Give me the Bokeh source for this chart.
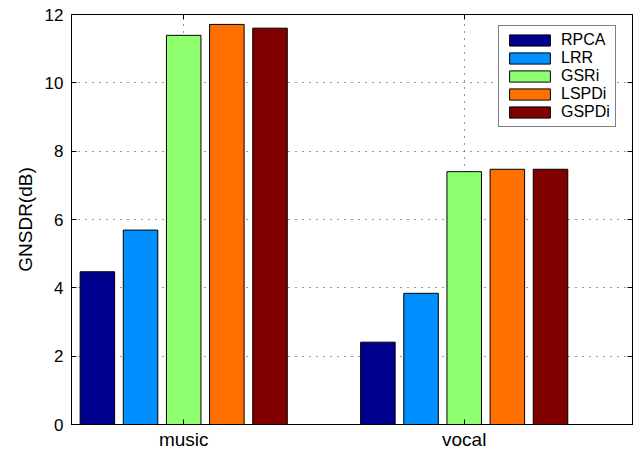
from bokeh.plotting import figure
from bokeh.models import FixedTicker, LinearAxis, Legend, LegendItem, Range1d, ColumnDataSource
from bokeh.embed import file_html
from bokeh.resources import INLINE

# GNSDR per separation method, for each source
groups = ["music", "vocal"]
methods = ["RPCA", "LRR", "GSRi", "LSPDi", "GSPDi"]
music_gnsdr = [4.47, 5.69, 11.39, 11.71, 11.60]
vocal_gnsdr = [2.41, 3.84, 7.40, 7.47, 7.47]
colors = ["#00008F", "#008FFF", "#8FFF70", "#FF7000", "#800000"]
y_ticks = [0, 2, 4, 6, 8, 10, 12]

FONT = "Liberation Sans"

p = figure(width=638, height=452, output_backend="svg", toolbar_location=None,
           x_range=Range1d(0.6, 2.6), y_range=Range1d(0, 12),
           min_border_left=71, min_border_right=6, min_border_top=14, min_border_bottom=26)
p.outline_line_color = "black"
p.outline_line_width = 1
p.background_fill_color = "white"
p.border_fill_color = "white"

# grouped bar layout: 5 bars per group
n = len(methods)
group_w = min(0.8, n / (n + 1.5))
step = group_w / n
bar_w = step * 0.8

renderers = []
for i, m in enumerate(methods):
    off = (i - (n - 1) / 2) * step
    src = ColumnDataSource(dict(
        x=[g + 1 + off for g in range(len(groups))],
        top=[music_gnsdr[i], vocal_gnsdr[i]],
    ))
    r = p.vbar(x="x", top="top", width=bar_w, bottom=0, source=src,
               fill_color=colors[i], line_color="black", line_width=1)
    renderers.append(r)

# axes
p.xaxis.ticker = FixedTicker(ticks=[1, 2])
p.xaxis.major_label_overrides = {1: groups[0], 2: groups[1]}
p.yaxis.ticker = FixedTicker(ticks=y_ticks)
for ax in (p.xaxis[0], p.yaxis[0]):
    ax.major_tick_in = 5
    ax.major_tick_out = 0
    ax.minor_tick_line_color = None
    ax.axis_line_color = "black"
    ax.major_tick_line_color = "black"
    ax.major_label_text_font = FONT
    ax.major_label_text_color = "black"
p.xaxis.major_label_text_font_size = "19px"
p.yaxis.major_label_text_font_size = "17px"
p.xaxis.major_label_standoff = 4
p.yaxis.major_label_standoff = 8
p.yaxis.axis_label = "GNSDR(dB)"
p.yaxis.axis_label_text_font = FONT
p.yaxis.axis_label_text_font_size = "19px"
p.yaxis.axis_label_text_font_style = "normal"
p.yaxis.axis_label_text_color = "black"
p.yaxis.axis_label_standoff = 6

# tick marks on the opposite sides of the box (no labels)
right_ax = LinearAxis(ticker=FixedTicker(ticks=y_ticks), major_tick_in=5, major_tick_out=0,
                      minor_tick_line_color=None, major_label_text_font_size="0px",
                      major_label_text_color=None,
                      major_label_standoff=0, axis_line_color="black")
top_ax = LinearAxis(ticker=FixedTicker(ticks=[1, 2]), major_tick_in=5, major_tick_out=0,
                    minor_tick_line_color=None, major_label_text_font_size="0px",
                    major_label_text_color=None,
                    major_label_standoff=0, axis_line_color="black")
p.add_layout(right_ax, "right")
p.add_layout(top_ax, "above")

# dotted grid
for g in (p.xgrid[0], p.ygrid[0]):
    g.grid_line_color = "#333333"
    g.grid_line_dash = "1 6"
    g.grid_line_width = 1
p.xgrid.ticker = FixedTicker(ticks=[1, 2])
p.ygrid.ticker = FixedTicker(ticks=y_ticks)

legend = Legend(items=[LegendItem(label=m, renderers=[r]) for m, r in zip(methods, renderers)],
                location=(427, 297), orientation="vertical",
                glyph_width=51, glyph_height=14, label_height=14, label_width=49,
                label_standoff=6, spacing=0, padding=5, margin=0,
                label_text_font=FONT, label_text_font_size="16px", label_text_color="black",
                border_line_color="black", border_line_width=1, background_fill_alpha=1)
p.add_layout(legend)

open("out.html", "w").write(file_html(p, INLINE))
